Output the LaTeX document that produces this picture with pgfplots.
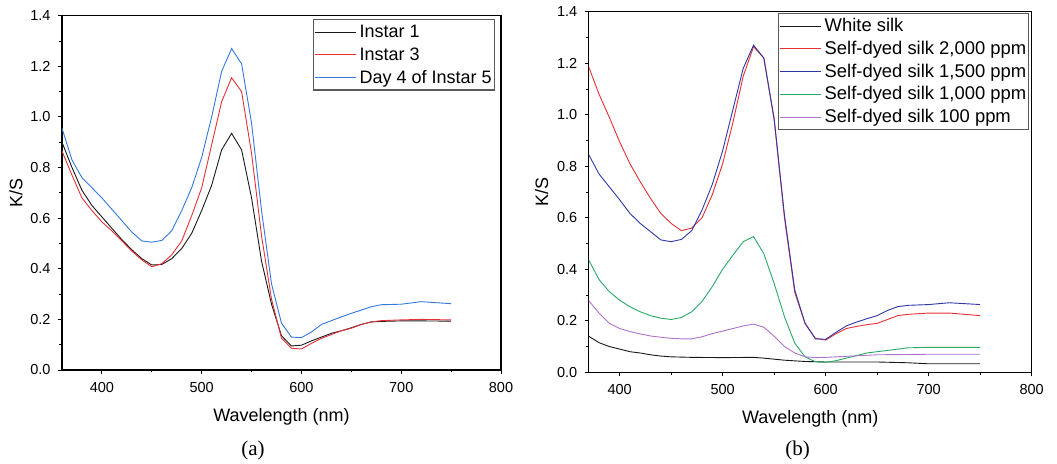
\documentclass[border=0pt]{standalone}
\usepackage{pgfplots}
\pgfplotsset{compat=1.18}
\usepackage{fontspec}
\setmainfont{Liberation Sans}
\newfontfamily\capfont{Liberation Serif}

\definecolor{cblack}{RGB}{25,25,25}
\definecolor{cred}{RGB}{232,48,52}
\definecolor{cblue}{RGB}{50,120,220}
\definecolor{cnavy}{RGB}{45,55,170}
\definecolor{cgreen}{RGB}{40,170,100}
\definecolor{cpurple}{RGB}{175,115,205}
\definecolor{legframe}{RGB}{90,90,90}

\pgfplotsset{
  ksstyle/.style={
    scale only axis,
    xmax=800, ymin=0, ymax=1.4,
    xtick={400,500,600,700,800},
    ytick={0,0.2,0.4,0.6,0.8,1.0,1.2,1.4},
    minor x tick num=1, minor y tick num=1,
    tick pos=left, tick align=outside,
    major tick length=4pt, minor tick length=2.5pt,
    axis line style={line width=1.1pt},
    tick style={line width=0.9pt, black},
    tick label style={font=\fontsize{14.5}{16}\selectfont},
    /pgf/number format/assume math mode=true,
    yticklabel style={xshift=-4pt, /pgf/number format/fixed, /pgf/number format/fixed zerofill, /pgf/number format/precision=1},
    xticklabel style={yshift=-5pt, /pgf/number format/1000 sep={}},
    xlabel={Wavelength (nm)}, ylabel={K/S},
    every axis x label/.style={at={(axis description cs:0.5,0)}, anchor=center, yshift=-47pt, font=\fontsize{18}{20}\selectfont},
    legend cell align=left,
    legend image code/.code={\draw[#1] (0pt,0pt) -- (41pt,0pt);},
    legend style={draw=legframe, line width=1.2pt,
      anchor=north east, inner xsep=0.5pt, inner ysep=1pt, row sep=0pt,
      nodes={inner xsep=2pt, inner ysep=0pt, text height=17pt, text depth=5.7pt},
      /tikz/every odd column/.style={column sep=1.5pt}},
    every axis plot/.append style={line width=0.9pt},
  }
}

\begin{document}
\begin{tikzpicture}
\useasboundingbox (0,0) rectangle (1057pt,463pt);

% (a) larval stages
\begin{axis}[ksstyle,
  at={(62pt,93pt)}, anchor=south west,
  width=439pt, height=354.3pt,
  xmin=360,
  every axis y label/.style={at={(axis description cs:-0.105,0.5)}, rotate=90, anchor=center, font=\fontsize{18}{20}\selectfont},
  legend style={at={(axis description cs:1,1)}, xshift=-6.3pt, yshift=-3.6pt, font=\fontsize{18}{19}\selectfont}]

\addplot[cblack] coordinates {
 (360,0.90) (370,0.80) (380,0.71) (390,0.65) (400,0.605) (410,0.56) (420,0.515)
 (430,0.475) (440,0.44) (450,0.415) (460,0.417) (470,0.44) (480,0.48) (490,0.54)
 (500,0.63) (510,0.73) (520,0.87) (530,0.935) (540,0.87) (550,0.68) (560,0.43)
 (570,0.26) (580,0.135) (590,0.095) (600,0.098) (610,0.115) (620,0.13) (630,0.145)
 (640,0.155) (650,0.167) (660,0.18) (670,0.19) (680,0.192) (690,0.193) (700,0.194)
 (720,0.194) (750,0.193)
};
\addlegendentry{Instar 1}

\addplot[cred] coordinates {
 (360,0.865) (370,0.77) (380,0.68) (390,0.63) (400,0.585) (410,0.55) (420,0.51)
 (430,0.47) (440,0.435) (450,0.408) (460,0.42) (470,0.455) (480,0.51) (490,0.61)
 (500,0.72) (510,0.89) (520,1.06) (530,1.155) (540,1.10) (550,0.856) (560,0.53)
 (570,0.28) (580,0.125) (590,0.086) (600,0.083) (610,0.105) (620,0.125) (630,0.14)
 (640,0.155) (650,0.165) (660,0.18) (670,0.19) (680,0.195) (700,0.198) (720,0.20)
 (750,0.198)
};
\addlegendentry{Instar 3}

\addplot[cblue] coordinates {
 (360,0.955) (370,0.83) (380,0.76) (390,0.72) (400,0.68) (410,0.635) (420,0.59)
 (430,0.545) (440,0.51) (450,0.505) (460,0.512) (470,0.55) (480,0.63) (490,0.72)
 (500,0.84) (510,1.00) (520,1.18) (530,1.27) (540,1.21) (550,0.975) (560,0.63)
 (570,0.34) (580,0.185) (590,0.13) (600,0.128) (610,0.15) (620,0.18) (630,0.195)
 (640,0.21) (650,0.224) (660,0.237) (670,0.25) (680,0.258) (700,0.26) (720,0.27)
 (750,0.262)
};
\addlegendentry{Day 4 of Instar 5}
\end{axis}

% (b) silk
\begin{axis}[ksstyle,
  at={(588.7pt,90.7pt)}, anchor=south west,
  width=443pt, height=360.6pt,
  xmin=370,
  every axis y label/.style={at={(axis description cs:-0.106,0.5)}, rotate=90, anchor=center, font=\fontsize{18}{20}\selectfont},
  legend style={at={(axis description cs:1,1)}, xshift=-2.4pt, yshift=-1.6pt, font=\fontsize{18.4}{19}\selectfont}]

\addplot[cblack] coordinates {
 (370,0.14) (380,0.115) (390,0.10) (400,0.09) (410,0.08) (420,0.075) (430,0.068)
 (440,0.063) (450,0.06) (470,0.058) (500,0.057) (530,0.058) (540,0.055) (560,0.047)
 (580,0.042) (600,0.04) (650,0.04) (680,0.037) (700,0.033) (750,0.033)
};
\addlegendentry{White silk}

\addplot[cred] coordinates {
 (370,1.186) (380,1.08) (390,0.99) (400,0.895) (410,0.81) (420,0.74) (430,0.675)
 (440,0.617) (450,0.578) (460,0.55) (470,0.56) (480,0.60) (490,0.69) (500,0.81)
 (510,0.97) (520,1.15) (530,1.264) (540,1.22) (550,0.98) (560,0.60) (570,0.31)
 (580,0.19) (590,0.132) (600,0.125) (610,0.15) (620,0.17) (630,0.178) (640,0.185)
 (650,0.19) (660,0.205) (670,0.22) (680,0.225) (700,0.23) (720,0.23) (750,0.22)
};
\addlegendentry{Self-dyed silk 2,000 ppm}

\addplot[cnavy] coordinates {
 (370,0.845) (380,0.77) (390,0.72) (400,0.67) (410,0.617) (420,0.578) (430,0.546)
 (440,0.514) (450,0.507) (460,0.516) (470,0.55) (480,0.63) (490,0.73) (500,0.86)
 (510,1.02) (520,1.18) (530,1.27) (540,1.22) (550,0.985) (560,0.61) (570,0.32)
 (580,0.19) (590,0.13) (600,0.128) (610,0.155) (620,0.18) (630,0.195) (640,0.208)
 (650,0.22) (660,0.24) (670,0.255) (680,0.26) (700,0.263) (720,0.27) (750,0.263)
};
\addlegendentry{Self-dyed silk 1,500 ppm}

\addplot[cgreen] coordinates {
 (370,0.436) (380,0.36) (390,0.313) (400,0.28) (410,0.255) (420,0.235) (430,0.22)
 (440,0.21) (450,0.205) (460,0.213) (470,0.235) (480,0.275) (490,0.333) (500,0.40)
 (510,0.455) (520,0.507) (530,0.527) (540,0.46) (550,0.345) (560,0.216) (570,0.113)
 (580,0.06) (590,0.041) (600,0.039) (610,0.045) (620,0.055) (630,0.065) (640,0.075)
 (650,0.08) (660,0.085) (670,0.09) (680,0.095) (700,0.097) (750,0.097)
};
\addlegendentry{Self-dyed silk 1,000 ppm}

\addplot[cpurple] coordinates {
 (370,0.278) (380,0.23) (390,0.19) (400,0.17) (410,0.158) (420,0.149) (430,0.141)
 (440,0.136) (450,0.132) (460,0.13) (470,0.13) (480,0.138) (490,0.15) (500,0.16)
 (510,0.17) (520,0.18) (530,0.187) (540,0.175) (550,0.14) (560,0.10) (570,0.075)
 (580,0.06) (590,0.057) (600,0.058) (620,0.062) (650,0.068) (700,0.07) (750,0.07)
};
\addlegendentry{Self-dyed silk 100 ppm}
\end{axis}

\node[font=\capfont\fontsize{21}{24}\selectfont] at (253pt,13pt) {(a)};
\node[font=\capfont\fontsize{21}{24}\selectfont] at (797.7pt,13pt) {(b)};
\end{tikzpicture}
\end{document}
